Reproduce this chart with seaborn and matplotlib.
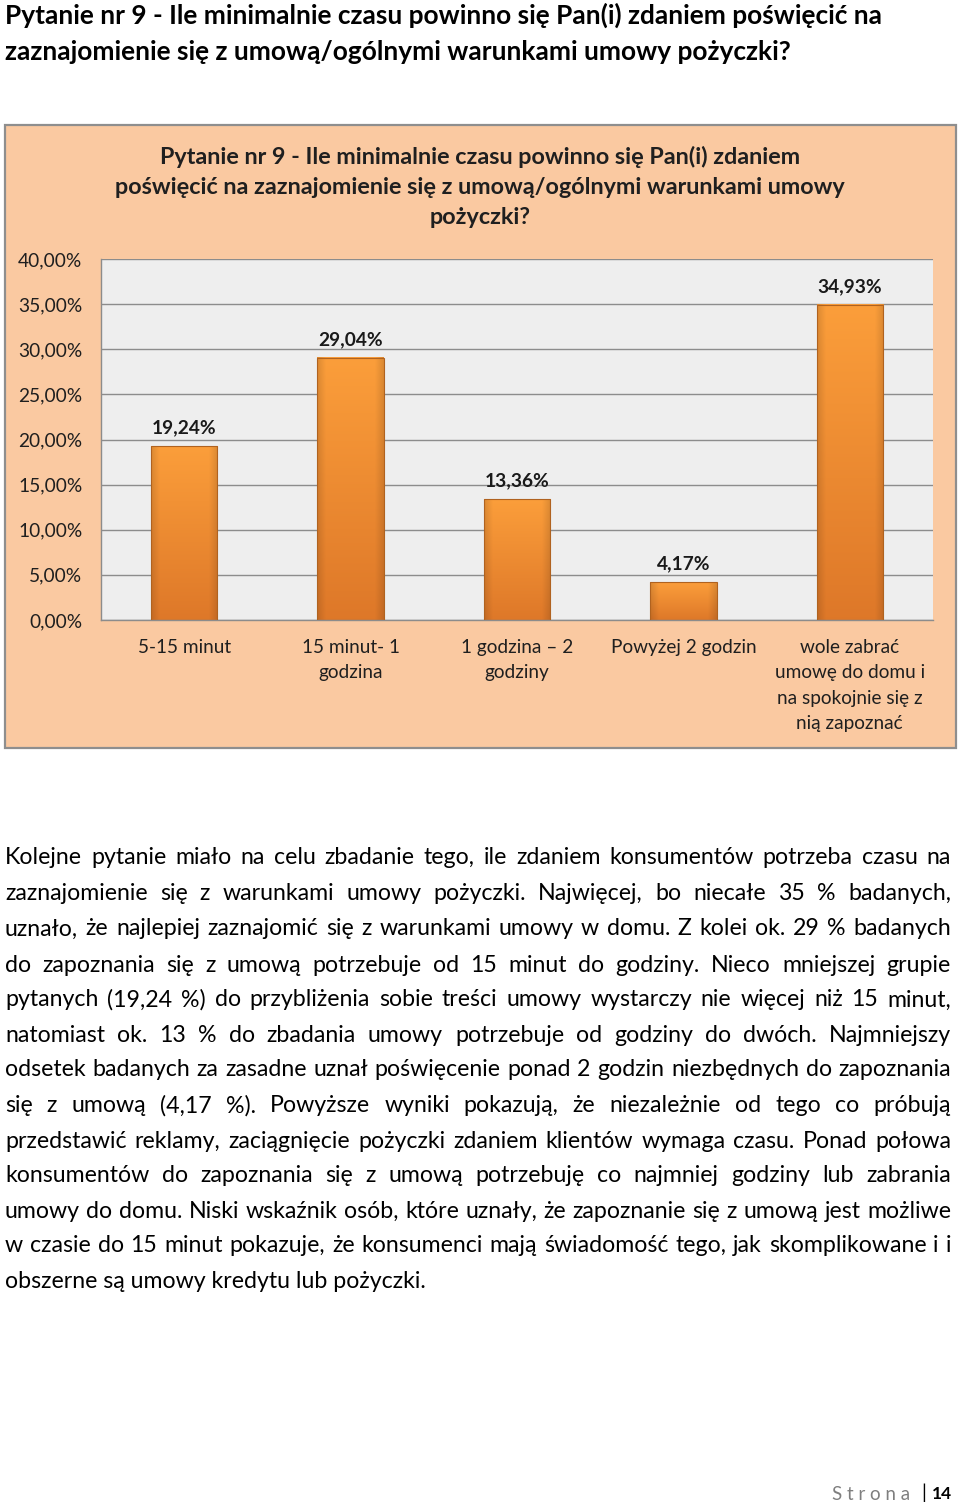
import numpy as np
import matplotlib
matplotlib.use("Agg")
import matplotlib.pyplot as plt
import seaborn as sns
from matplotlib.patches import Rectangle

# ---------------- data ----------------
categories = ["5-15 minut", "15 minut- 1\ngodzina", "1 godzina – 2\ngodziny",
              "Powyżej 2 godzin", "wole zabrać\numowę do domu i\nna spokojnie się z\nnią zapoznać"]
values = [19.24, 29.04, 13.36, 4.17, 34.93]
value_labels = ["19,24%", "29,04%", "13,36%", "4,17%", "34,93%"]
y_ticks = [0, 5, 10, 15, 20, 25, 30, 35, 40]
y_tick_labels = ["0,00%", "5,00%", "10,00%", "15,00%", "20,00%", "25,00%", "30,00%", "35,00%", "40,00%"]

heading_lines = ["Pytanie nr 9 - Ile minimalnie czasu powinno się Pan(i) zdaniem poświęcić na",
                 "zaznajomienie się z umową/ogólnymi warunkami umowy pożyczki?"]
chart_title_lines = ["Pytanie nr 9 - Ile minimalnie czasu powinno się Pan(i) zdaniem",
                     "poświęcić na zaznajomienie się z umową/ogólnymi warunkami umowy",
                     "pożyczki?"]
paragraph_lines = [
    "Kolejne pytanie miało na celu zbadanie tego, ile zdaniem konsumentów potrzeba czasu na",
    "zaznajomienie się z warunkami umowy pożyczki. Najwięcej, bo niecałe 35 % badanych,",
    "uznało, że najlepiej zaznajomić się z warunkami umowy w domu. Z kolei ok. 29 % badanych",
    "do zapoznania się z umową potrzebuje od 15 minut do godziny. Nieco mniejszej grupie",
    "pytanych (19,24 %) do przybliżenia sobie treści umowy wystarczy nie więcej niż 15 minut,",
    "natomiast ok. 13 % do zbadania umowy potrzebuje od godziny do dwóch.  Najmniejszy",
    "odsetek badanych za zasadne uznał poświęcenie ponad 2 godzin niezbędnych do zapoznania",
    "się z umową (4,17 %). Powyższe wyniki pokazują, że niezależnie od tego co próbują",
    "przedstawić reklamy, zaciągnięcie pożyczki zdaniem klientów wymaga czasu. Ponad połowa",
    "konsumentów do zapoznania się z umową potrzebuję co najmniej godziny lub zabrania",
    "umowy do domu. Niski wskaźnik osób, które uznały, że zapoznanie się z umową jest możliwe",
    "w czasie do 15 minut pokazuje, że konsumenci mają świadomość tego, jak skomplikowane i i",
    "obszerne są umowy kredytu lub pożyczki.",
]
footer_word = "S t r o n a"
footer_page = "14"

# ---------------- setup ----------------
sns.set_theme(style="white")
plt.rcParams['font.family'] = ['Lato', 'DejaVu Sans']

W, H = 960, 1505
fig = plt.figure(figsize=(W / 100, H / 100), dpi=100)
fig.patch.set_facecolor('white')
r = fig.canvas.get_renderer()


def fx(x):
    return x / W


def fy(y):
    return 1 - y / H


def text_width(s, size, **kw):
    t = fig.text(0, 0, s, fontsize=size, **kw)
    w = t.get_window_extent(r).width
    t.remove()
    return w


def fit_size(s, target, base=14, **kw):
    return base * target / text_width(s, base, **kw)


# ---------------- page heading ----------------
hs = fit_size(heading_lines[0], 883, fontweight='bold')
for line, yc in zip(heading_lines, [15, 52]):
    fig.text(fx(5), fy(yc), line, fontsize=hs, fontweight='bold', color='black',
             ha='left', va='center')

# ---------------- chart box ----------------
fig.patches.append(Rectangle((fx(5), fy(748)), 951 / W, 623 / H, transform=fig.transFigure,
                             facecolor='#FAC9A1', edgecolor='#8E8E8E', lw=1.6, zorder=-5))

ts = fit_size(chart_title_lines[1], 735, fontweight='bold')
for line, yc in zip(chart_title_lines, [157, 188, 218]):
    fig.text(fx(480), fy(yc), line, fontsize=ts, fontweight='bold', color='#1F1F1F',
             ha='center', va='center')

ax = fig.add_axes([fx(101), fy(620), 832 / W, 361 / H])
ax.set_zorder(2)
ax.set_facecolor('#EEEEEE')
sns.barplot(x=list(range(len(values))), y=values, ax=ax, width=0.4, color='#F39433',
            saturation=1)

# gradient fill for bars
n = 120
top = np.array([0.985, 0.62, 0.23])
bot = np.array([0.87, 0.47, 0.16])
tvals = np.linspace(0, 1, n)[:, None]
col = top[None, :] * (1 - tvals) + bot[None, :] * tvals
m = 40
xs = np.linspace(-1, 1, m)
side = 1 - 0.12 * np.clip((np.abs(xs) - 0.75) / 0.25, 0, 1)
grad = np.clip(col[:, None, :] * side[None, :, None], 0, 1)
for p in ax.patches:
    x0, w, h = p.get_x(), p.get_width(), p.get_height()
    ax.imshow(grad, extent=[x0, x0 + w, 0, h], aspect='auto', zorder=2, interpolation='bilinear')
    p.set_facecolor('none')
    p.set_edgecolor('#B0621F')
    p.set_linewidth(0.8)
    p.set_zorder(3)

tick_col = '#1F1F1F'
ax.set_xlim(-0.5, len(values) - 0.5)
ax.set_ylim(0, 40)
ax.set_yticks(y_ticks)
ax.set_yticklabels(y_tick_labels, fontsize=13.8, color=tick_col)
ax.set_xticks(range(len(values)))
ax.set_xticklabels(categories, fontsize=13.7, color=tick_col, linespacing=1.6)
ax.set_xticks(np.arange(-0.5, len(values), 1.0), minor=True)
ax.tick_params(axis='x', which='major', length=0, pad=13.5)
ax.tick_params(axis='x', which='minor', length=5, color='#8C8C8C', direction='out', width=1)
ax.tick_params(axis='y', which='major', length=5, color='#8C8C8C', direction='out', width=1, pad=8.5)
ax.set_xlabel('')
ax.set_ylabel('')
ax.yaxis.grid(True, color='#8C8C8C', lw=1)
ax.xaxis.grid(False)
ax.set_axisbelow(True)
for s in ['top', 'right']:
    ax.spines[s].set_visible(False)
for s in ['left', 'bottom']:
    ax.spines[s].set_color('#8C8C8C')
    ax.spines[s].set_linewidth(1)

ax.bar_label(ax.containers[0], labels=value_labels, padding=7, fontsize=13.8,
             fontweight='bold', color='#1A1A1A')

# ---------------- paragraph (justified) ----------------
base = 14
maxw = max(text_width(l, base) for l in paragraph_lines[:-1])
ps = base * 942 / maxw
x_left, x_right = 5, 951
line_ys = [858, 894, 929, 965, 1000, 1035, 1070, 1106, 1141, 1176, 1211, 1246, 1281]
for i, (line, yc) in enumerate(zip(paragraph_lines, line_ys)):
    last = i == len(paragraph_lines) - 1
    if last:
        fig.text(fx(x_left), fy(yc), line, fontsize=ps, color='black', ha='left', va='center')
        continue
    words = line.split()
    widths = [text_width(wd, ps) for wd in words]
    gap = (x_right - x_left - sum(widths)) / (len(words) - 1)
    x = x_left
    for wd, ww in zip(words, widths):
        fig.text(fx(x), fy(yc), wd, fontsize=ps, color='black', ha='left', va='center')
        x += ww + gap

# ---------------- footer ----------------
fig.text(fx(910), fy(1494), footer_word, fontsize=13.5, color='#7F7F7F', ha='right', va='center')
fig.text(fx(924), fy(1493), "|", fontsize=14, color='black', ha='center', va='center')
fig.text(fx(952), fy(1494), footer_page, fontsize=12.5, fontweight='bold', color='black',
         ha='right', va='center')

fig.savefig('out.png', dpi=100)
